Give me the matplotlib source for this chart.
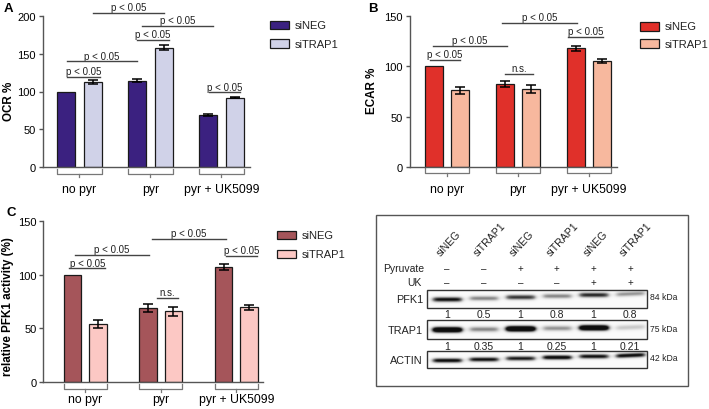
import numpy as np
import matplotlib
matplotlib.use("Agg")
import matplotlib.pyplot as plt
from matplotlib.patches import Rectangle

plt.rcParams['font.family'] = ['Liberation Sans', 'DejaVu Sans']

W, H = 709, 410
fig = plt.figure(figsize=(W / 100, H / 100), dpi=100)

# ---------------- data ----------------
groups = ['no pyr', 'pyr', 'pyr + UK5099']
series = ['siNEG', 'siTRAP1']

ocr_sineg = [100, 114, 69]
ocr_sineg_err = [0, 2, 1.5]
ocr_sitrap1 = [113, 158, 92]
ocr_sitrap1_err = [2.5, 3, 1]

ecar_sineg = [100, 82, 118]
ecar_sineg_err = [0, 3, 2.5]
ecar_sitrap1 = [76, 77.5, 105]
ecar_sitrap1_err = [3.5, 3.5, 2]

pfk_sineg = [100, 69, 107]
pfk_sineg_err = [0, 3.5, 3]
pfk_sitrap1 = [54, 66, 69.5]
pfk_sitrap1_err = [3.5, 4, 2.5]

yticks_A = [0, 50, 100, 150, 200]
yticks_B = [0, 50, 100, 150]
yticks_C = [0, 50, 100, 150]

# significance brackets: (x start, x end, y, label)
sig_A = [(-0.17, 0.29, 119.6, 'p < 0.05'), (-0.17, 0.81, 140, 'p < 0.05'),
         (0.81, 1.26, 168.6, 'p < 0.05'), (0.88, 1.88, 187, 'p < 0.05'),
         (0.19, 1.19, 204, 'p < 0.05'), (1.83, 2.26, 99, 'p < 0.05')]
sig_B = [(-0.24, 0.18, 106.7, 'p < 0.05'), (-0.20, 0.84, 120.4, 'p < 0.05'),
         (0.78, 1.83, 143.7, 'p < 0.05'), (0.82, 1.21, 92.7, 'n.s.'),
         (1.70, 2.20, 129.3, 'p < 0.05')]
sig_C = [(-0.21, 0.26, 105.7, 'p < 0.05'), (-0.14, 0.85, 118.4, 'p < 0.05'),
         (0.88, 1.86, 133, 'p < 0.05'), (0.95, 1.23, 78.2, 'n.s.'),
         (1.86, 2.28, 117.5, 'p < 0.05')]

colors_A = ['#3b2180', '#d0d2e8']
colors_B = ['#e0302a', '#f7b89e']
colors_C = ['#a5555a', '#fcc8c4']

# western blot
blot_lanes = ['siNEG', 'siTRAP1', 'siNEG', 'siTRAP1', 'siNEG', 'siTRAP1']
pyruvate = ['–', '–', '+', '+', '+', '+']
uk = ['–', '–', '–', '–', '+', '+']
pfk1_quant = ['1', '0.5', '1', '0.8', '1', '0.8']
trap1_quant = ['1', '0.35', '1', '0.25', '1', '0.21']
pfk1_band = [1.0, 0.55, 0.85, 0.55, 0.9, 0.5]
trap1_band = [1.6, 0.55, 1.7, 0.5, 1.6, 0.3]
actin_band = [1.05, 1.0, 0.95, 1.1, 1.0, 1.05]

# overlay axes in pixel coordinates
ov = fig.add_axes([0, 0, 1, 1])
ov.set_xlim(0, W)
ov.set_ylim(H, 0)
ov.axis('off')

EDGE = '#1a1a1a'
AXC = '#555555'


def panel(left, top, bottom, c0, sp, xmax, ymax, yticks, neg, neg_e, trap, trap_e,
          colors, bw, off, sigs, label_pad, ylabel, ylab_xy, legend_xy, legend_dy):
    xmin = (left - c0) / sp
    right = c0 + xmax * sp
    ax = fig.add_axes([left / W, 1 - bottom / H, (right - left) / W, (bottom - top) / H])
    ax.patch.set_alpha(0)
    ax.set_xlim(xmin, xmax)
    ax.set_ylim(0, ymax)
    x = np.arange(len(groups))
    ax.bar(x - off, neg, bw, color=colors[0], edgecolor=EDGE, linewidth=0.9, zorder=2)
    ax.bar(x + off, trap, bw, color=colors[1], edgecolor=EDGE, linewidth=0.9, zorder=2)
    for xs, v, e in ((x - off, neg, neg_e), (x + off, trap, trap_e)):
        m = np.array(e) > 0
        ax.errorbar(np.array(xs)[m], np.array(v)[m], yerr=np.array(e)[m], fmt='none',
                    ecolor='black', elinewidth=1.1, capsize=3.5, capthick=1.1, zorder=3)
    for s in ('top', 'right'):
        ax.spines[s].set_visible(False)
    for s in ('left', 'bottom'):
        ax.spines[s].set_color(AXC)
        ax.spines[s].set_linewidth(1.0)
    ax.set_yticks(yticks)
    ax.tick_params(axis='y', length=3, width=1, color=AXC, labelsize=8, pad=2)
    ax.set_xticks(x, groups)
    ax.tick_params(axis='x', length=0, labelsize=8.8, pad=label_pad)
    axh = bottom - top
    fy = lambda p: -p / axh
    tr = ax.get_xaxis_transform()
    for g in x:
        xl, xr = g - off - bw / 2, g + off + bw / 2
        ax.plot([xl, xl, xr, xr], [fy(1.5), fy(6.5), fy(6.5), fy(1.5)], color='#777777', lw=0.9,
                transform=tr, clip_on=False)
        ax.plot([g, g], [fy(6.5), fy(9.5)], color='#777777', lw=0.9, transform=tr, clip_on=False)
    for x0, x1, y, lab in sigs:
        ax.plot([x0, x1], [y, y], color='#444444', lw=1.0, clip_on=False, zorder=4)
        ax.text((x0 + x1) / 2, y + ymax * 0.004, lab, ha='center', va='bottom',
                fontsize=7.0, color='#222222', clip_on=False)
    fig.text(ylab_xy[0] / W, 1 - ylab_xy[1] / H, ylabel, rotation=90, ha='center',
             va='center', fontsize=8.4, fontweight='bold')
    lx, ly = legend_xy
    for i, (c, name) in enumerate(zip(colors, series)):
        yy = ly + i * legend_dy
        ov.add_patch(Rectangle((lx, yy - 4.2), 19, 8.4, facecolor=c, edgecolor=EDGE, lw=0.9))
        ov.text(lx + 25, yy, name, ha='left', va='center', fontsize=8, color='#222222')
    return ax


panel(43, 17, 168, 79.3, 71, 2.4, 200, yticks_A, ocr_sineg, ocr_sineg_err, ocr_sitrap1,
      ocr_sitrap1_err, colors_A, 0.254, 0.187, sig_A, 11.5, 'OCR %', (9, 101), (270, 26), 18.5)
panel(410, 17.3, 167.7, 447, 71, 2.4, 150, yticks_B, ecar_sineg, ecar_sineg_err, ecar_sitrap1,
      ecar_sitrap1_err, colors_B, 0.254, 0.187, sig_B, 11.5, 'ECAR %', (372, 91), (640, 27.5), 17)
panel(43.3, 221.7, 383.3, 85.3, 75.5, 2.35, 150, yticks_C, pfk_sineg, pfk_sineg_err, pfk_sitrap1,
      pfk_sitrap1_err, colors_C, 0.232, 0.167, sig_C, 8.0, 'relative PFK1 activity (%)', (8, 307),
      (277, 236), 19)

# panel letters
for lab, (px, py) in zip(['A', 'B', 'C'], [(8.5, 8.5), (372.5, 8.5), (11, 213)]):
    ov.text(px, py, lab, ha='center', va='center', fontsize=9.5, fontweight='bold')

# ---------------- western blot ----------------
ov.add_patch(Rectangle((376, 215.7), 312, 171.6, fill=False, edgecolor='#555555', lw=1.0))
lane_x = np.linspace(447, 630, len(blot_lanes))
for lx, lab in zip(lane_x, blot_lanes):
    ov.text(lx - 6, 257, lab, rotation=47, rotation_mode='anchor', ha='left', va='baseline',
            fontsize=7.6, color='#222222')
ov.text(424, 269, 'Pyruvate', ha='right', va='center', fontsize=7.5, color='#222222')
ov.text(422, 283.3, 'UK', ha='right', va='center', fontsize=7.5, color='#222222')
for lx, p, u in zip(lane_x, pyruvate, uk):
    ov.text(lx, 269, p, ha='center', va='center', fontsize=7, color='#222222')
    ov.text(lx, 283.3, u, ha='center', va='center', fontsize=7, color='#222222')

bx0, bx1 = 426.7, 647.3


def blot(y0, y1, dens, yc, drift, thick, name, name_y, kda, kda_y):
    xs = np.linspace(bx0, bx1, int((bx1 - bx0) * 4))
    ys = np.linspace(y0, y1, int((y1 - y0) * 4))
    X, Y = np.meshgrid(xs, ys)
    img = np.full_like(X, 0.04)
    for i, (lx, d) in enumerate(zip(lane_x, dens)):
        hw = 14.5
        fx = 1 / (1 + np.exp(-(X - (lx - hw)) / 1.6)) / (1 + np.exp((X - (lx + hw)) / 1.6))
        yy = yc - drift * i / (len(dens) - 1) - 0.04 * (X - lx) * (i == len(dens) - 1)
        fyv = np.exp(-0.5 * ((Y - yy) / thick) ** 2)
        img += d * fx * fyv
    ov.imshow(np.clip(img, 0, 1), cmap='Greys', vmin=0, vmax=1.05,
              extent=(bx0, bx1, y1, y0), aspect='auto', interpolation='bilinear', zorder=1)
    ov.add_patch(Rectangle((bx0, y0), bx1 - bx0, y1 - y0, fill=False, edgecolor='#333333',
                           lw=1.0, zorder=2))
    ov.text(423, name_y, name, ha='right', va='center', fontsize=7.8, color='#222222')
    ov.text(650, kda_y, kda, ha='left', va='center', fontsize=6.2, color='#222222')


blot(290.7, 309, pfk1_band, 300.8, 5.5, 1.75, 'PFK1', 300.5, '84 kDa', 298)
blot(321, 340, trap1_band, 330.8, 2.5, 2.0, 'TRAP1', 330.7, '75 kDa', 329.5)
blot(351.7, 369, actin_band, 361.8, 5.0, 1.6, 'ACTIN', 360.7, '42 kDa', 359)

for lx, a, b in zip(lane_x, pfk1_quant, trap1_quant):
    ov.text(lx, 314.7, a, ha='center', va='center', fontsize=7.5, color='#222222')
    ov.text(lx, 346.7, b, ha='center', va='center', fontsize=7.5, color='#222222')

ov.set_xlim(0, W)
ov.set_ylim(H, 0)

fig.savefig('out.png', dpi=100)
